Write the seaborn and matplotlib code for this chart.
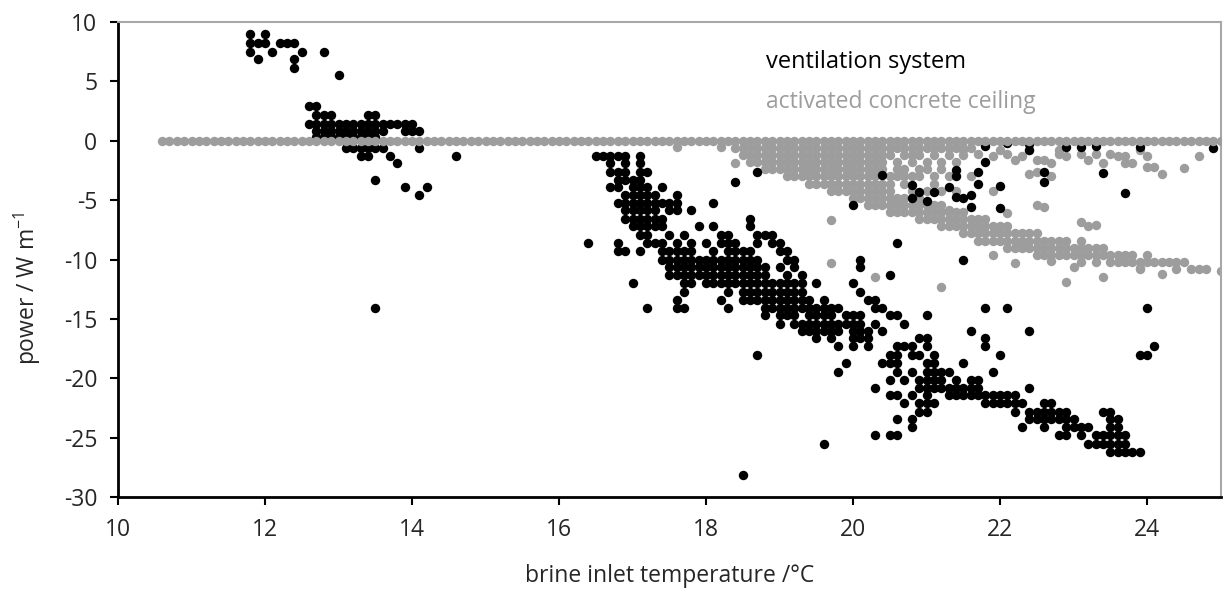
import pandas as pd
import matplotlib.pyplot as plt
import seaborn as sns

# ventilation system: rows of equal power, (power, [temperatures])
vent_rows = [
    (9.0, [11.8, 12.0]),
    (8.2, [11.8, 11.9, 12.0, 12.2, 12.3, 12.4]),
    (7.5, [11.8, 12.1, 12.5, 12.8]),
    (6.9, [11.9, 12.4]),
    (6.1, [12.4]),
    (5.5, [13.0]),
    (2.9, [12.6, 12.7]),
    (2.2, [12.7, 12.8, 12.9, 13.4, 13.5]),
    (1.4, [12.6, 12.7, 12.8, 12.9, 13.0, 13.1, 13.2, 13.3, 13.4, 13.5, 13.6, 13.7, 13.8, 13.9, 14.0]),
    (0.8, [12.7, 12.8, 12.9, 13.0, 13.1, 13.2, 13.3, 13.4, 13.5, 13.6, 13.9, 14.0, 14.1]),
    (0.3, [12.7, 12.8, 12.9, 13.0, 13.1, 13.2, 13.3, 13.4, 13.5]),
    (-0.6, [13.1, 13.2, 13.3, 13.4, 13.5, 13.6, 14.1]),
    (-1.3, [13.3, 13.4, 13.7, 14.6, 16.5, 16.6, 16.7, 16.8, 16.9, 17.1]),
    (-1.9, [13.8, 16.7, 16.9, 17.1]),
    (-2.6, [16.7, 16.8, 16.9, 17.1, 17.2]),
    (-3.3, [13.5, 16.8, 16.9, 17.0, 17.1]),
    (-3.9, [13.9, 14.2, 16.7, 16.8, 17.0, 17.1, 17.2, 17.4]),
    (-4.6, [14.1, 16.9, 17.0, 17.1, 17.2, 17.3, 17.6]),
    (-5.2, [16.8, 16.9, 17.0, 17.1, 17.2, 17.3, 17.4, 17.5, 17.6, 18.1]),
    (-5.8, [16.9, 17.0, 17.1, 17.2, 17.3, 17.5, 17.6, 17.8]),
    (-6.6, [16.9, 17.0, 17.1, 17.2, 17.3, 17.4, 18.6]),
    (-7.2, [17.0, 17.1, 17.2, 17.3, 17.4, 17.9, 18.1, 18.6]),
    (-7.9, [17.1, 17.2, 17.5, 17.7, 18.2, 18.3, 18.7, 18.8, 18.9]),
    (-8.6, [16.4, 16.8, 17.2, 17.3, 17.4, 17.6, 17.8, 18.0, 18.2, 18.3, 18.4, 18.7, 18.9, 19.0, 20.6]),
    (-9.3, [16.8, 16.9, 17.1, 17.4, 17.5, 17.6, 17.7, 17.8, 18.1, 18.3, 18.4, 18.5, 18.6, 19.0, 19.1]),
    (-10.0, [17.4, 17.5, 17.6, 17.7, 17.8, 17.9, 18.0, 18.1, 18.2, 18.3, 18.4, 18.5, 18.6, 18.7, 19.1, 19.2, 20.1, 21.5]),
    (-10.6, [17.5, 17.6, 17.7, 17.8, 17.9, 18.0, 18.1, 18.2, 18.3, 18.4, 18.5, 18.6, 18.7, 18.8, 19.0, 19.2, 20.1]),
    (-11.3, [17.5, 17.6, 17.7, 17.8, 17.9, 18.0, 18.1, 18.2, 18.3, 18.4, 18.5, 18.6, 18.7, 18.8, 19.1, 19.3, 20.5]),
    (-12.0, [17.0, 17.7, 17.8, 18.0, 18.1, 18.2, 18.3, 18.4, 18.5, 18.6, 18.7, 18.8, 18.9, 19.0, 19.1, 19.2, 19.3, 19.5, 20.0]),
    (-12.7, [17.7, 18.3, 18.5, 18.6, 18.7, 18.8, 18.9, 19.0, 19.1, 19.2, 19.3, 20.1]),
    (-13.4, [17.6, 18.2, 18.5, 18.6, 18.7, 18.8, 18.9, 19.0, 19.1, 19.2, 19.3, 19.4, 19.6, 20.2, 20.3]),
    (-14.1, [13.5, 17.2, 17.6, 17.7, 18.3, 18.8, 18.9, 19.0, 19.1, 19.2, 19.3, 19.4, 19.5, 19.6, 19.7, 19.8,
             20.3, 20.4, 21.8, 22.1, 24.0]),
    (-14.7, [18.8, 19.0, 19.1, 19.2, 19.4, 19.5, 19.6, 19.7, 19.9, 20.0, 20.1, 20.5, 20.6, 21.0]),
    (-15.4, [19.0, 19.2, 19.3, 19.4, 19.5, 19.6, 19.7, 19.8, 19.9, 20.0, 20.1, 20.3, 20.7]),
    (-16.0, [19.3, 19.4, 19.5, 19.6, 19.7, 19.8, 20.0, 20.1, 20.2, 20.4, 21.6, 22.4]),
    (-16.6, [19.5, 19.7, 20.0, 20.1, 20.2, 20.9, 21.0, 21.8]),
    (-17.3, [19.8, 20.0, 20.2, 20.6, 20.7, 20.8, 21.0, 21.8, 24.1]),
    (-18.0, [18.7, 20.5, 20.6, 20.8, 20.9, 21.1, 22.0, 23.9, 24.0]),
    (-18.7, [19.9, 20.4, 20.5, 20.6, 21.0, 21.1, 21.5]),
    (-19.5, [19.8, 20.6, 20.8, 21.0, 21.1, 21.2, 21.3, 21.9]),
    (-20.1, [20.5, 20.7, 20.9, 21.0, 21.1, 21.2, 21.4, 21.6, 21.7]),
    (-20.8, [20.3, 20.9, 21.0, 21.1, 21.2, 21.3, 21.4, 21.5, 21.6, 21.7, 22.4]),
    (-21.4, [20.5, 20.6, 20.8, 21.0, 21.3, 21.4, 21.5, 21.6, 21.7, 21.8, 21.9, 22.0, 22.1, 22.2]),
    (-22.1, [20.7, 20.9, 21.0, 21.1, 21.8, 21.9, 22.0, 22.1, 22.2, 22.3, 22.6, 22.7]),
    (-22.8, [20.9, 21.0, 22.2, 22.4, 22.5, 22.6, 22.7, 22.8, 22.9, 23.4, 23.5]),
    (-23.4, [20.6, 20.8, 22.4, 22.5, 22.6, 22.7, 22.8, 22.9, 23.0, 23.5, 23.6]),
    (-24.1, [20.8, 22.3, 22.6, 22.9, 23.0, 23.1, 23.2, 23.5, 23.6]),
    (-24.8, [20.3, 20.5, 20.6, 22.8, 22.9, 23.1, 23.3, 23.4, 23.5, 23.6, 23.7]),
    (-25.5, [19.6, 23.2, 23.3, 23.4, 23.5, 23.6, 23.7]),
    (-26.2, [23.5, 23.6, 23.7, 23.8, 23.9]),
    (-28.1, [18.5]),
]

# ventilation points scattered among the ceiling points
vent_extra_x = [18.4, 18.7, 20.0, 20.4, 20.8, 20.8, 20.9, 21.0, 21.1, 21.3, 21.4, 21.4, 21.4, 21.5, 21.6,
                21.6, 21.7, 21.7, 21.8, 22.0, 22.0, 22.6, 22.6, 23.4, 23.7,
                21.8, 22.1, 22.4, 22.4, 22.9, 23.1, 23.3, 23.9, 24.9]
vent_extra_y = [-3.5, -2.6, -5.4, -2.9, -3.7, -4.8, -4.3, -5.1, -4.3, -3.9, -2.5, -3.0, -4.7, -4.8, -4.6,
                -5.6, -2.6, -3.6, -1.8, -3.8, -5.7, -2.6, -3.5, -2.7, -4.4,
                -0.4, -0.2, -0.3, -0.8, -0.5, -0.5, -0.4, -0.5, -0.6]

# activated concrete ceiling: points with zero power
ceiling_zero_x = [10.6, 10.7, 10.8, 10.9, 11.0, 11.1, 11.2, 11.3, 11.4, 11.5, 11.6, 11.7, 11.8, 11.9,
                  12.0, 12.1, 12.2, 12.3, 12.4, 12.5, 12.6, 12.7, 12.8, 12.9, 13.0, 13.1, 13.2, 13.3,
                  13.4, 13.5, 13.6, 13.7, 13.8, 13.9, 14.0, 14.1, 14.2, 14.3, 14.4, 14.5, 14.6, 14.7,
                  14.8, 14.9, 15.0, 15.1, 15.2, 15.3, 15.4, 15.5, 15.6, 15.7, 15.8, 15.9, 16.0, 16.1,
                  16.2, 16.3, 16.4, 16.5, 16.6, 16.7, 16.8, 16.9, 17.0, 17.1, 17.2, 17.3, 17.4, 17.5,
                  17.6, 17.7, 17.8, 17.9, 18.0, 18.1, 18.2, 18.3, 18.4, 18.5, 18.6, 18.7, 18.8, 18.9,
                  19.0, 19.1, 19.2, 19.3, 19.4, 19.5, 19.6, 19.7, 19.8, 19.9, 20.0, 20.1, 20.2, 20.3,
                  20.4, 20.5, 20.6, 20.7, 20.8, 20.9, 21.0, 21.1, 21.2, 21.3, 21.4, 21.5, 21.6, 21.7,
                  21.8, 21.9, 22.0, 22.1, 22.2, 22.3, 22.4, 22.5, 22.6, 22.7, 22.8, 22.9, 23.0, 23.1,
                  23.2, 23.3, 23.4, 23.5, 23.6, 23.7, 23.8, 23.9, 24.0, 24.1, 24.2, 24.3, 24.4, 24.5,
                  24.6, 24.7, 24.8, 24.9, 25.0]

# activated concrete ceiling: columns of equal temperature, (temperature, [powers])
ceiling_cols = [
    (18.4, [-0.6]),
    (18.5, [-0.6, -1.2]),
    (18.6, [-0.6, -1.2, -1.8]),
    (18.7, [-0.6, -1.2, -1.8]),
    (18.8, [-0.6, -1.2, -1.8, -2.4]),
    (18.9, [-0.6, -1.2, -1.8, -2.4]),
    (19.0, [-0.6, -1.2, -1.8, -2.4]),
    (19.1, [-0.6, -1.2, -1.8, -2.4, -3.0]),
    (19.2, [-0.6, -1.2, -1.8, -2.4, -3.0]),
    (19.3, [-0.6, -1.2, -1.8, -2.4, -3.0]),
    (19.4, [-0.6, -1.2, -1.8, -2.4, -3.0, -3.6]),
    (19.5, [-0.6, -1.2, -1.8, -2.4, -3.0, -3.6]),
    (19.6, [-0.6, -1.2, -1.8, -2.4, -3.0, -3.6]),
    (19.7, [-0.6, -1.2, -1.8, -2.4, -3.0, -3.6, -4.2]),
    (19.8, [-0.6, -1.2, -1.8, -2.4, -3.0, -3.6, -4.2]),
    (19.9, [-0.6, -1.2, -1.8, -2.4, -3.0, -3.6, -4.2]),
    (20.0, [-0.6, -1.2, -1.8, -2.4, -3.0, -3.6, -4.2, -4.8]),
    (20.1, [-0.6, -1.2, -1.8, -2.4, -3.0, -3.6, -4.2, -4.8]),
    (20.2, [-0.6, -1.2, -1.8, -2.4, -3.0, -3.6, -4.2, -4.8, -5.4]),
    (20.3, [-0.6, -1.2, -1.8, -2.4, -3.0, -3.6, -4.2, -4.8, -5.4]),
    (20.4, [-0.6, -1.2, -1.8, -2.4, -3.6, -4.2, -4.8, -5.4]),
    (20.5, [-0.6, -1.2, -3.0, -3.6, -4.2, -4.8, -5.4, -6.0]),
    (20.6, [-0.6, -1.8, -2.4, -3.0, -4.8, -5.4, -6.0]),
    (20.7, [-0.6, -1.2, -2.4, -3.0, -3.6, -4.8, -5.4, -6.0]),
    (20.8, [-0.6, -1.2, -1.8, -3.0, -4.2, -5.4, -6.0]),
    (20.9, [-0.6, -1.2, -2.4, -3.0, -4.8, -5.4, -6.0, -6.6]),
    (21.0, [-0.6, -1.8, -2.4, -4.2, -5.4, -6.0, -6.6]),
    (21.1, [-0.6, -1.2, -3.0, -3.6, -5.4, -6.0, -6.6]),
    (21.2, [-0.6, -1.8, -2.4, -4.2, -5.4, -6.0, -6.6, -7.2]),
    (21.3, [-0.6, -1.2, -3.0, -6.0, -6.6, -7.2]),
    (21.4, [-0.6, -1.8, -4.2, -6.0, -6.6, -7.2]),
    (21.5, [-0.6, -1.2, -6.0, -6.6, -7.2, -7.8]),
    (21.6, [-0.6, -3.0, -6.6, -7.2, -7.8]),
    (21.7, [-6.6, -7.2, -7.8, -8.4]),
    (21.8, [-6.6, -7.2, -7.8, -8.4]),
    (21.9, [-7.2, -7.8, -8.4]),
    (22.0, [-7.2, -7.8, -8.4]),
    (22.1, [-7.2, -7.8, -8.4, -9.0]),
    (22.2, [-7.8, -8.4, -9.0]),
    (22.3, [-7.8, -8.4, -9.0]),
    (22.4, [-7.8, -8.4, -9.0]),
    (22.5, [-7.8, -8.4, -9.0, -9.6]),
    (22.6, [-8.4, -9.0, -9.6]),
    (22.7, [-8.4, -9.0, -9.6]),
    (22.8, [-8.4, -9.0, -9.6]),
    (22.9, [-8.4, -9.0, -9.6]),
    (23.0, [-9.0, -9.6]),
    (23.1, [-8.4, -9.0, -9.6, -10.2]),
    (23.2, [-9.0, -9.6]),
    (23.3, [-9.0, -9.6, -10.2]),
    (23.4, [-9.0, -9.6]),
    (23.5, [-9.6, -10.2]),
    (23.6, [-9.6, -10.2]),
    (23.7, [-9.6, -10.2]),
    (23.8, [-9.6, -10.2]),
    (23.9, [-10.2, -10.8]),
    (24.0, [-9.6, -10.2]),
    (24.1, [-10.2]),
    (24.2, [-10.2]),
    (24.3, [-10.2]),
    (24.4, [-10.2, -10.8]),
    (24.5, [-10.2]),
    (24.6, [-10.8]),
    (24.7, [-10.8]),
    (24.8, [-10.8]),
    (25.0, [-11.0]),
]

# single ceiling points off the main band
ceiling_extra_x = [17.6, 18.2, 18.4, 19.7, 19.7, 20.3, 21.2, 22.9, 23.4, 24.2, 22.2, 22.7, 23.0, 23.9, 21.9,
                   21.5, 21.7, 21.9, 22.0, 22.1, 22.2, 22.3, 22.4, 22.5, 22.6, 22.7, 22.8, 22.8, 22.9,
                   23.1, 23.2, 23.3, 23.4, 23.5, 23.6, 23.7, 23.7, 23.8, 23.9, 24.0, 24.0, 24.1, 24.2,
                   24.5, 24.7, 22.4, 22.5, 22.7, 22.5, 22.6, 23.1, 23.2, 23.3, 21.9, 22.1, 21.3]
ceiling_extra_y = [-0.5, -0.5, -1.9, -6.7, -10.3, -11.5, -12.3, -11.9, -11.5, -11.2, -10.3, -10.1, -10.6,
                   -10.7, -9.6,
                   -0.8, -1.1, -1.3, -0.8, -1.1, -1.6, -1.3, -0.8, -1.6, -1.6, -1.9, -1.1, -0.8, -1.3,
                   -1.1, -1.6, -1.1, -1.9, -1.1, -1.3, -1.3, -1.9, -1.9, -0.8, -1.3, -2.2, -2.2, -2.8,
                   -2.3, -1.3, -2.8, -2.6, -3.0, -5.4, -5.6, -6.8, -7.2, -7.1, -4.2, -6.1, -5.8]

vent = pd.DataFrame([(x, y) for y, xs in vent_rows for x in xs] + list(zip(vent_extra_x, vent_extra_y)),
                    columns=['temperature', 'power'])
ceiling = pd.DataFrame([(x, y) for x, ys in ceiling_cols for y in ys]
                       + list(zip(ceiling_extra_x, ceiling_extra_y)),
                       columns=['temperature', 'power'])
ceiling_zero = pd.DataFrame({'temperature': ceiling_zero_x, 'power': [0.0] * len(ceiling_zero_x)})

sns.set_style('ticks')
plt.rcParams['font.family'] = ['Open Sans', 'DejaVu Sans']
plt.rcParams['mathtext.fontset'] = 'custom'
plt.rcParams['mathtext.rm'] = 'Open Sans'
plt.rcParams['axes.unicode_minus'] = False

gray = '#9d9d9d'
dot = 46
fig, ax = plt.subplots(figsize=(12.23, 5.92), dpi=100)
fig.subplots_adjust(left=0.0965, right=0.998, top=0.963, bottom=0.16)

sns.scatterplot(data=ceiling, x='temperature', y='power', color=gray, s=dot, linewidth=0, ax=ax, zorder=2)
sns.scatterplot(data=vent, x='temperature', y='power', color='black', s=dot, linewidth=0, ax=ax, zorder=3)
sns.scatterplot(data=ceiling_zero, x='temperature', y='power', color=gray, s=dot, linewidth=0, ax=ax, zorder=4)

ax.set_xlim(10, 25)
ax.set_ylim(-30, 10)
ax.set_xticks(range(10, 25, 2))
ax.set_yticks(range(-30, 11, 5))
for side in ['left', 'bottom']:
    ax.spines[side].set_linewidth(2)
    ax.spines[side].set_color('black')
for side in ['top', 'right']:
    ax.spines[side].set_linewidth(1.5)
    ax.spines[side].set_color('#a8a8a8')
ax.tick_params(direction='out', length=6, width=1.5, labelsize=16.5, color='black', pad=9)

ax.set_xlabel('brine inlet temperature /°C', fontsize=16.5, labelpad=16)
ax.set_ylabel(r'power / W m$^{\mathregular{-1}}$', fontsize=16.5)
ax.yaxis.set_label_coords(-0.068, 0.44)

ax.text(0.5875, 0.915, 'ventilation system', transform=ax.transAxes, fontsize=17,
        color='black', va='center')
ax.text(0.5875, 0.832, 'activated concrete ceiling', transform=ax.transAxes, fontsize=16.5,
        color=gray, va='center')

plt.savefig('out.png', dpi=100)
plt.close()
